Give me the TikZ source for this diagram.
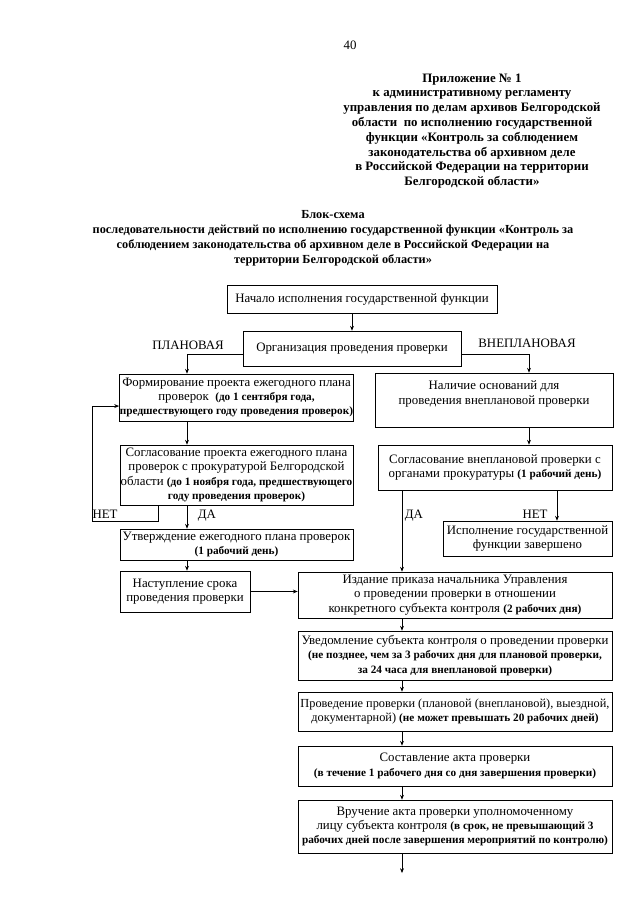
\documentclass[tikz,border=0pt]{standalone}
\usepackage{fontspec}
\setmainfont{Liberation Serif}
\usetikzlibrary{arrows.meta}
\newdimen\pxu \pxu=0.328125mm
\newcommand\termnote[1]{{\fontsize{10.5}{12}\selectfont\bfseries #1}}

\begin{document}
\begin{tikzpicture}[x=0.328125mm, y=-0.328125mm,
  font=\fontsize{12}{13.5}\selectfont,
  box/.style={draw, line width=0.6pt, align=center, inner sep=0.5pt},
  arrow/.style={-{Stealth[length=4.5pt,width=3.6pt]}, line width=0.6pt},
  heading/.style={align=center, font=\fontsize{12}{13.8}\selectfont\bfseries}
]
\useasboundingbox (0,0) rectangle (640,905);

% Columns of the connectors
\coordinate (planx) at (187,0);
\coordinate (vnepx) at (529,0);
\coordinate (mainx) at (402,0);
\coordinate (netx) at (158,0);
\coordinate (loopx) at (92,0);
\coordinate (netRx) at (557,0);

% Page heading
\node (pagenum) at (350,45) {40};
\node[heading] (appendix) at (472,131)
  {Приложение № 1\\к административному регламенту\\управления по делам архивов Белгородской\\области\ \ по исполнению государственной\\функции «Контроль за соблюдением\\законодательства об архивном деле\\в Российской Федерации на территории\\Белгородской области»};
\node[heading, font=\fontsize{11.5}{14}\selectfont\bfseries] (schemeTitle) at (333,238)
  {Блок-схема\\последовательности действий по исполнению государственной функции «Контроль за\\соблюдением законодательства об архивном деле в Российской Федерации на\\территории Белгородской области»};

% Start
\node[box, minimum width=270*\pxu, minimum height=28*\pxu] (start) at (362,299)
  {Начало исполнения государственной функции};
\node[box, minimum width=218*\pxu, minimum height=35*\pxu] (org) at (352,348.5)
  {Организация проведения проверки};
\node (planL) at (188,345) {ПЛАНОВАЯ};
\node (vnepL) at (527,343) {ВНЕПЛАНОВАЯ};

% Planned inspection
\node[box, minimum width=233*\pxu, minimum height=47*\pxu] (formir) at (236.5,397.5)
  {Формирование проекта ежегодного плана\\проверок\ \ \termnote{(до 1 сентября года,}\\\termnote{предшествующего году проведения проверок)}};
\node[box, minimum width=233*\pxu, minimum height=60*\pxu] (soglPlan) at (236.5,475)
  {Согласование проекта ежегодного плана\\проверок с прокуратурой Белгородской\\области \termnote{(до 1 ноября года, предшествующего}\\\termnote{году проведения проверок)}};
\node[box, minimum width=233*\pxu, minimum height=31*\pxu] (utv) at (236.5,544.5)
  {Утверждение ежегодного плана проверок\\\termnote{(1 рабочий день)}};
\node[box, minimum width=130*\pxu, minimum height=41*\pxu] (nast) at (185,591.5)
  {Наступление срока\\проведения проверки};
\node (netL) at (105,514) {НЕТ};
\node (daL) at (207,516) {ДА};

% Unplanned inspection
\node[box, minimum width=238*\pxu, minimum height=54*\pxu] (osnov) at (494,400)
  {Наличие оснований для\\проведения внеплановой проверки\\\mbox{}};
\node[box, minimum width=234*\pxu, minimum height=45*\pxu] (soglVnep) at (495,467.5)
  {Согласование внеплановой проверки с\\органами прокуратуры \termnote{(1 рабочий день)}};
\node[box, minimum width=169*\pxu, minimum height=35*\pxu] (konec) at (527.5,538.5)
  {Исполнение государственной\\функции завершено};
\node (daR) at (414,516) {ДА};
\node (netR) at (535,514) {НЕТ};

% Common part
\node[box, minimum width=314*\pxu, minimum height=46*\pxu] (prikaz) at (455,595)
  {Издание приказа начальника Управления\\о проведении проверки в отношении\\конкретного субъекта контроля \termnote{(2 рабочих дня)}};
\node[box, minimum width=314*\pxu, minimum height=49*\pxu] (uved) at (455,655.5)
  {Уведомление субъекта контроля о проведении проверки\\\termnote{(не позднее, чем за 3 рабочих дня для плановой проверки,}\\\termnote{за 24 часа для внеплановой проверки)}};
\node[box, minimum width=314*\pxu, minimum height=39*\pxu, font=\fontsize{11.5}{13.5}\selectfont] (provod) at (455,711.5)
  {Проведение проверки (плановой (внеплановой), выездной,\\документарной) \termnote{(не может превышать 20 рабочих дней)}};
\node[box, minimum width=314*\pxu, minimum height=40*\pxu] (akt) at (455,766)
  {Составление акта проверки\\\termnote{(в течение 1 рабочего дня со дня завершения проверки)}};
\node[box, minimum width=314*\pxu, minimum height=53*\pxu] (vruch) at (455,826.5)
  {Вручение акта проверки уполномоченному\\лицу субъекта контроля \termnote{(в срок, не превышающий 3}\\\termnote{рабочих дней после завершения мероприятий по контролю)}};
\coordinate (finish) at (402,873);

% Arrows at the top
\draw[arrow] (start.south -| org.north) -- (org.north);
\draw[arrow] ([yshift=-5pt]org.west) -| (formir.north -| planx);
\draw[arrow] ([yshift=-5pt]org.east) -| (osnov.north -| vnepx);

% Arrows of the planned branch
\draw[arrow] (formir.south -| planx) -- (soglPlan.north -| planx);
\draw[arrow] (soglPlan.south -| planx) -- (utv.north -| planx);
\draw[arrow] (soglPlan.south -| netx) -- ++(0,16) -| ([yshift=-8pt]formir.west -| loopx) -- ([yshift=-8pt]formir.west);
\draw[arrow] (utv.south -| planx) -- (nast.north -| planx);
\draw[arrow] (nast.east) -- (nast.east -| prikaz.west);

% Arrows of the unplanned branch
\draw[arrow] (osnov.south -| vnepx) -- (soglVnep.north -| vnepx);
\draw[arrow] (soglVnep.south -| mainx) -- (prikaz.north -| mainx);
\draw[arrow] (soglVnep.south -| netRx) -- (konec.north -| netRx);

% Vertical flow
\draw[arrow] (prikaz.south -| mainx) -- (uved.north -| mainx);
\draw[arrow] (uved.south -| mainx) -- (provod.north -| mainx);
\draw[arrow] (provod.south -| mainx) -- (akt.north -| mainx);
\draw[arrow] (akt.south -| mainx) -- (vruch.north -| mainx);
\draw[arrow] (vruch.south -| mainx) -- (finish);

\end{tikzpicture}
\end{document}
